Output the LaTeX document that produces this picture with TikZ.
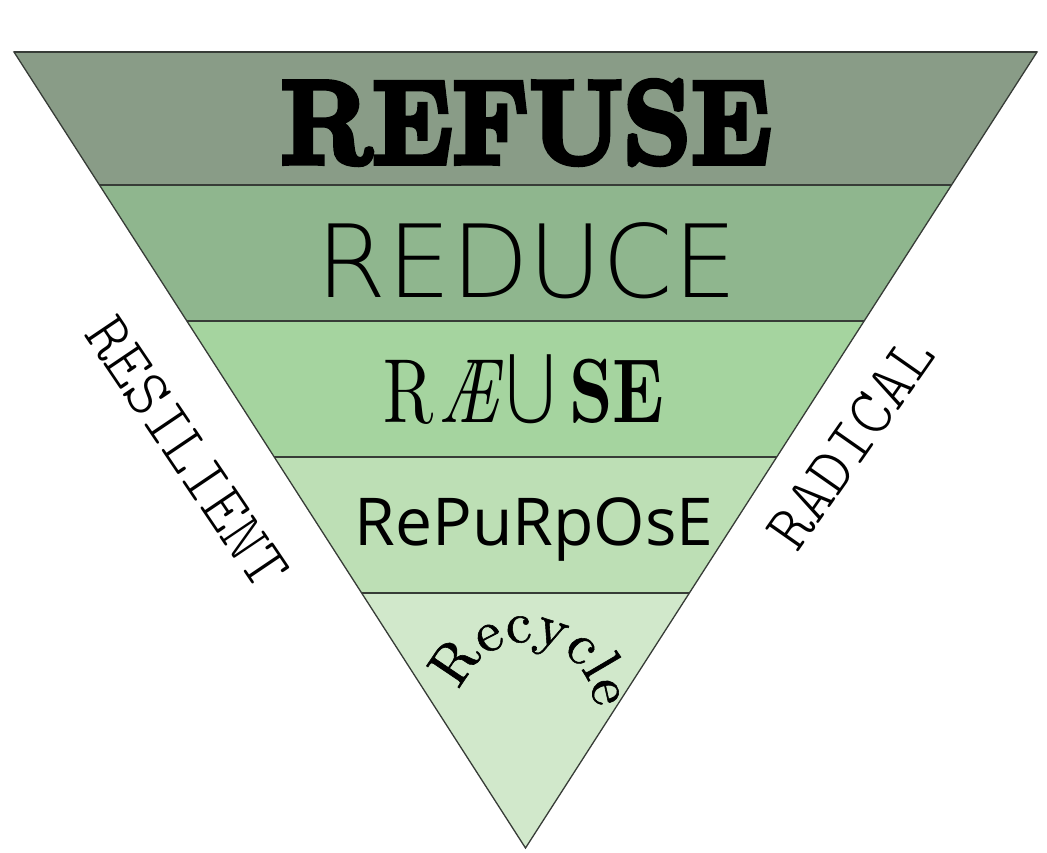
\documentclass[tikz,border=0pt]{standalone}
\usepackage{fontspec}
\usepackage{graphicx}
\usetikzlibrary{calc,decorations.text}
\setmainfont{Latin Modern Roman}
\newfontfamily\refusefont{lmroman10-bold.otf}[FakeBold=5]
\newfontfamily\thinfont{DejaVuSans-ExtraLight.ttf}
\newfontfamily\purpfont{Open Sans}
\newfontfamily\romtenfont{lmroman10-regular.otf}
\newfontfamily\recyfont{lmroman10-regular.otf}[FakeBold=1]
\newfontfamily\ittenfont{lmroman10-italic.otf}
\newfontfamily\bftenfont{lmroman10-bold.otf}
\newfontfamily\monolightfont{lmmonolt10-regular.otf}
\definecolor{bandA}{RGB}{137,156,135}
\definecolor{bandB}{RGB}{143,182,142}
\definecolor{bandC}{RGB}{165,212,159}
\definecolor{bandD}{RGB}{189,223,181}
\definecolor{bandE}{RGB}{209,232,203}
\definecolor{edgecol}{RGB}{55,60,55}
\tikzset{
  edgeline/.style={draw=edgecol, line width=1.3pt, line join=miter},
  sepline/.style={draw=edgecol, line width=1.8pt},
  sideword/.style={font=\monolightfont\fontsize{66}{66}\selectfont, inner sep=0pt},
}
\begin{document}
\begin{tikzpicture}[x=1pt,y=-1pt]
\useasboundingbox (0,0) rectangle (1047,852);
\coordinate (TL) at (14,52);
\coordinate (TR) at (1037,52);
\coordinate (AP) at (525.5,848);
\foreach \i/\t in {1/0.1671,2/0.3379,3/0.5088,4/0.6797}{
  \coordinate (L\i) at ($(TL)!\t!(AP)$);
  \coordinate (R\i) at ($(TR)!\t!(AP)$);
}
\fill[bandA] (TL) -- (TR) -- (R1) -- (L1) -- cycle;
\fill[bandB] (L1) -- (R1) -- (R2) -- (L2) -- cycle;
\fill[bandC] (L2) -- (R2) -- (R3) -- (L3) -- cycle;
\fill[bandD] (L3) -- (R3) -- (R4) -- (L4) -- cycle;
\fill[bandE] (L4) -- (R4) -- (AP) -- cycle;
\draw[edgeline] (TL) -- (TR) -- (AP) -- cycle;
\draw[sepline] (TL) -- (TR);
\foreach \i in {1,...,4}{ \draw[sepline] (L\i) -- (R\i); }

\node[anchor=base, inner sep=0pt, xscale=0.9, font=\refusefont\fontsize{118}{118}\selectfont] (refuse) at (526,163) {REFUSE};
\node[anchor=base, inner sep=0pt, font=\thinfont\fontsize{101}{101}\selectfont] (reduce) at (527,297) {REDUCE};
\node[anchor=base, inner sep=0pt, xscale=0.75] (reuse) at (524,422)
  {\fontsize{91}{91}\selectfont\romtenfont R\kern6pt{\ittenfont\AE}\kern4pt\scalebox{1.15}[1]{\thinfont\fontsize{93}{93}\selectfont U}\kern12pt{\bftenfont SE}};
\node[anchor=base, inner sep=0pt, font=\purpfont\fontsize{66}{66}\selectfont] (repurpose) at (534,545) {RePuRpOsE};

\coordinate (rc) at (526.5,710);
\path[decorate, decoration={text along path, text align=center,
   text={|\recyfont\fontsize{58}{58}\selectfont|Recycle}}]
   ($(rc)+(-183:68)$) arc[start angle=-183, end angle=17, radius=68];

\node[sideword, rotate=-56] (resilient) at (187,452) {RESILIENT};
\node[sideword, rotate=55] (radical) at (851,443) {RADICAL};
\end{tikzpicture}
\end{document}
